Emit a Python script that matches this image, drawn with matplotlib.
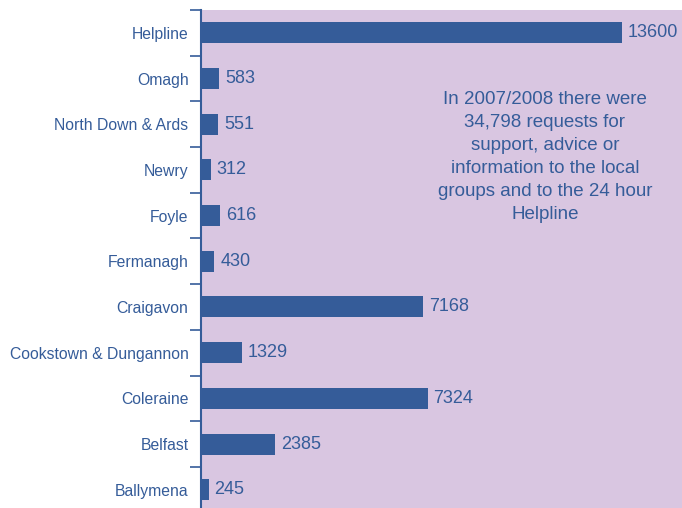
import matplotlib
matplotlib.use('Agg')
import matplotlib.pyplot as plt
from matplotlib.ticker import FixedLocator

categories = ['Helpline', 'Omagh', 'North Down & Ards', 'Newry', 'Foyle', 'Fermanagh',
              'Craigavon', 'Cookstown & Dungannon', 'Coleraine', 'Belfast', 'Ballymena']
values = [13600, 583, 551, 312, 616, 430, 7168, 1329, 7324, 2385, 245]
value_labels = ['13600', '583', '551', '312', '616', '430', '7168', '1329', '7324', '2385', '245']

note = ('In 2007/2008 there were\n34,798 requests for\nsupport, advice or\n'
        'information to the local\ngroups and to the 24 hour\nHelpline')

blue = '#355c99'
lavender = '#d9c6e1'

plt.rcParams['font.family'] = ['Liberation Sans', 'DejaVu Sans']

fig = plt.figure(figsize=(6.82, 5.08), dpi=100)
ax = fig.add_axes([201 / 682, 0.0, 481 / 682, 498 / 508])
ax.set_facecolor(lavender)

pos = list(range(len(categories)))
ax.barh(pos, values, height=0.46, color=blue)
for p, v, t in zip(pos, values, value_labels):
    ax.text(v + 190, p, t, va='center', ha='left', fontsize=13, color=blue)

ax.set_xlim(0, 15540)
ax.set_ylim(10.4, -0.5)

ax.set_yticks(pos)
ax.set_yticklabels(categories)
ax.yaxis.set_minor_locator(FixedLocator([i - 0.5 for i in range(len(categories) + 1)]))
ax.tick_params(axis='y', which='major', length=0, pad=9, labelsize=11.3, labelcolor=blue)
ax.tick_params(axis='y', which='minor', length=8, width=1.2, direction='out', color=blue)
ax.set_xticks([])

for s in ['top', 'right', 'bottom']:
    ax.spines[s].set_visible(False)
ax.spines['left'].set_color(blue)
ax.spines['left'].set_linewidth(1.5)

ax.text(0.715, 0.705, note, transform=ax.transAxes, ha='center', va='center',
        fontsize=13.5, color=blue, linespacing=1.45)

plt.savefig('out.png')
